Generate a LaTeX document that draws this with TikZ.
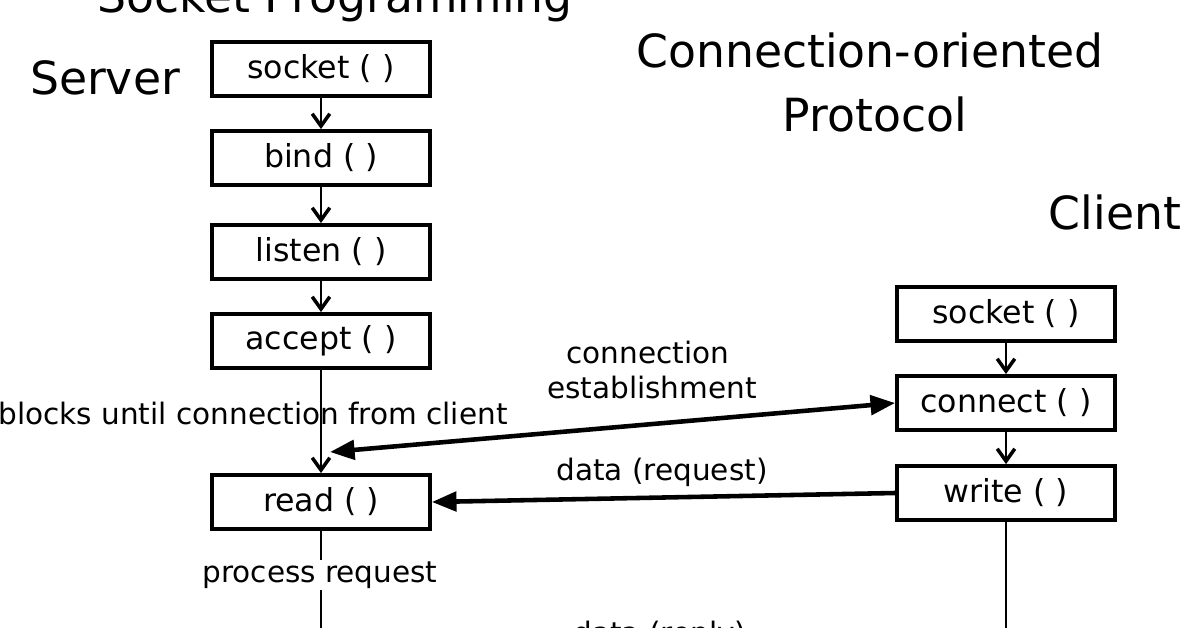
\documentclass[tikz,border=0pt]{standalone}
\usepackage{fontspec}
\setmainfont{DejaVu Sans}
\usetikzlibrary{arrows.meta}
\begin{document}
\begin{tikzpicture}[x=0.02cm,y=-0.02cm,
  box/.style={draw,line width=2.2pt,minimum width=4.36cm,minimum height=1.08cm,font=\fontsize{18}{20}\selectfont,inner sep=0pt},
  lbl/.style={font=\fontsize{16.8}{19}\selectfont,inner sep=0pt},
  big/.style={font=\fontsize{26}{30}\selectfont,inner sep=0pt},
  flow/.style={line width=1.3pt,-{Straight Barb[length=7pt,width=10pt,line width=2pt]}},
  msg/.style={line width=2.6pt,-{Triangle[length=14pt,width=11pt]}}]
\clip (0,0) rectangle (1199,628);
\fill[white] (0,0) rectangle (1199,628);
\node[big] (title) at (335,0) {Socket Programming};
\node[big] (server) at (105,78) {Server};
\node[big] (co) at (870,50) {Connection-oriented};
\node[big] (proto) at (875,114) {Protocol};
\node[big] (client) at (1115,212) {Client};
\node[box] (s1) at (321,69) {socket ( )};
\node[box] (s2) at (321,158) {bind ( )};
\node[box] (s3) at (321,252) {listen ( )};
\node[box] (s4) at (321,341) {accept ( )};
\node[box] (s5) at (321,502) {read ( )};
\node[box] (c1) at (1006,314) {socket ( )};
\node[box] (c2) at (1006,403) {connect ( )};
\node[box] (c3) at (1006,493) {write ( )};
\coordinate (sb) at (321,640);
\coordinate (cb) at (1006,640);
\draw[flow] (s1) -- (s2);
\draw[flow] (s2) -- (s3);
\draw[flow] (s3) -- (s4);
\draw[flow] (s4) -- (s5);
\draw[flow] (c1) -- (c2);
\draw[flow] (c2) -- (c3);
\draw[line width=1.3pt] (s5) -- (sb);
\draw[line width=1.3pt] (c3) -- (cb);
\node[lbl] (blk) at (253,413) {blocks until connection from client};
\coordinate (ca) at (330,452);
\draw[msg,{Triangle[length=14pt,width=11pt]}-{Triangle[length=14pt,width=11pt]}] (ca) -- (c2.west);
\node[lbl] (ce1) at (648,352) {connection};
\node[lbl] (ce2) at (652,387) {establishment};
\draw[msg] (c3.west) -- (s5.east);
\node[lbl] (dr) at (662,472) {data (request)};
\node[lbl,fill=white,inner sep=1pt] (pr) at (320,575) {process request};
\node[lbl] (drp) at (660,635) {data (reply)};
\end{tikzpicture}
\end{document}
